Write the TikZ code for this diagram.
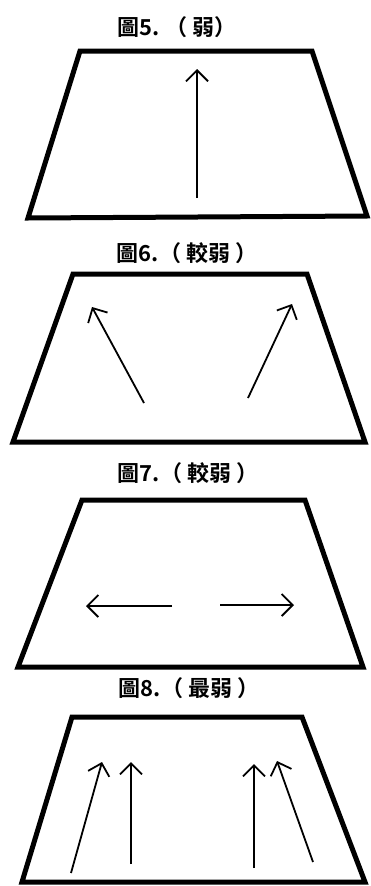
\documentclass[tikz,border=0pt]{standalone}
\usepackage{fontspec}
\newfontfamily\cjk{Noto Sans CJK TC}[BoldFont={* Bold}]
\usetikzlibrary{arrows.meta}
\tikzset{
  court/.style={line width=5pt, line join=miter, line cap=butt},
  mv/.style={line width=1.8pt, -{Straight Barb[length=11pt,width=22pt,line width=1.8pt]}},
  ttl/.style={font=\cjk\bfseries\fontsize{22}{22}\selectfont, inner sep=0pt}
}
\newcommand\gp{\hspace{5pt}}
\begin{document}
\begin{tikzpicture}[x=1pt,y=-1pt]
\useasboundingbox (0,0) rectangle (371,886);
% Panel 1
\node[ttl] (t5) at (177,27) {圖5.\gp（\gp 弱）};
\draw[court] (80,51) -- (312,51) -- (367,216) -- (28,218) -- cycle;
\coordinate (a1s) at (197,198); \coordinate (a1e) at (197,69);
\draw[mv] (a1s) -- (a1e);
% Panel 2
\node[ttl] (t6) at (187,253) {圖6.（\gp 較弱\gp ）};
\draw[court] (73,274) -- (307,274) -- (365,442) -- (13,442) -- cycle;
\coordinate (b1s) at (144,403); \coordinate (b1e) at (92,307);
\coordinate (b2s) at (248,398); \coordinate (b2e) at (292,304);
\draw[mv] (b1s) -- (b1e);
\draw[mv] (b2s) -- (b2e);
% Panel 3
\node[ttl] (t7) at (188,473) {圖7.（\gp 較弱\gp ）};
\draw[court] (82,500) -- (305,500) -- (363,667) -- (18,667) -- cycle;
\coordinate (c1s) at (172,606); \coordinate (c1e) at (86,606);
\coordinate (c2s) at (220,605); \coordinate (c2e) at (294,605);
\draw[mv] (c1s) -- (c1e);
\draw[mv] (c2s) -- (c2e);
% Panel 4
\node[ttl] (t8) at (189,688) {圖8.（\gp 最弱\gp ）};
\draw[court] (72,717) -- (302,717) -- (365,882) -- (22,882) -- cycle;
\coordinate (d1s) at (71,873); \coordinate (d1e) at (102,762);
\coordinate (d2s) at (131,864); \coordinate (d2e) at (131,762);
\coordinate (d3s) at (254,868); \coordinate (d3e) at (254,764);
\coordinate (d4s) at (313,862); \coordinate (d4e) at (277,761);
\draw[mv] (d1s) -- (d1e);
\draw[mv] (d2s) -- (d2e);
\draw[mv] (d3s) -- (d3e);
\draw[mv] (d4s) -- (d4e);
\end{tikzpicture}
\end{document}
